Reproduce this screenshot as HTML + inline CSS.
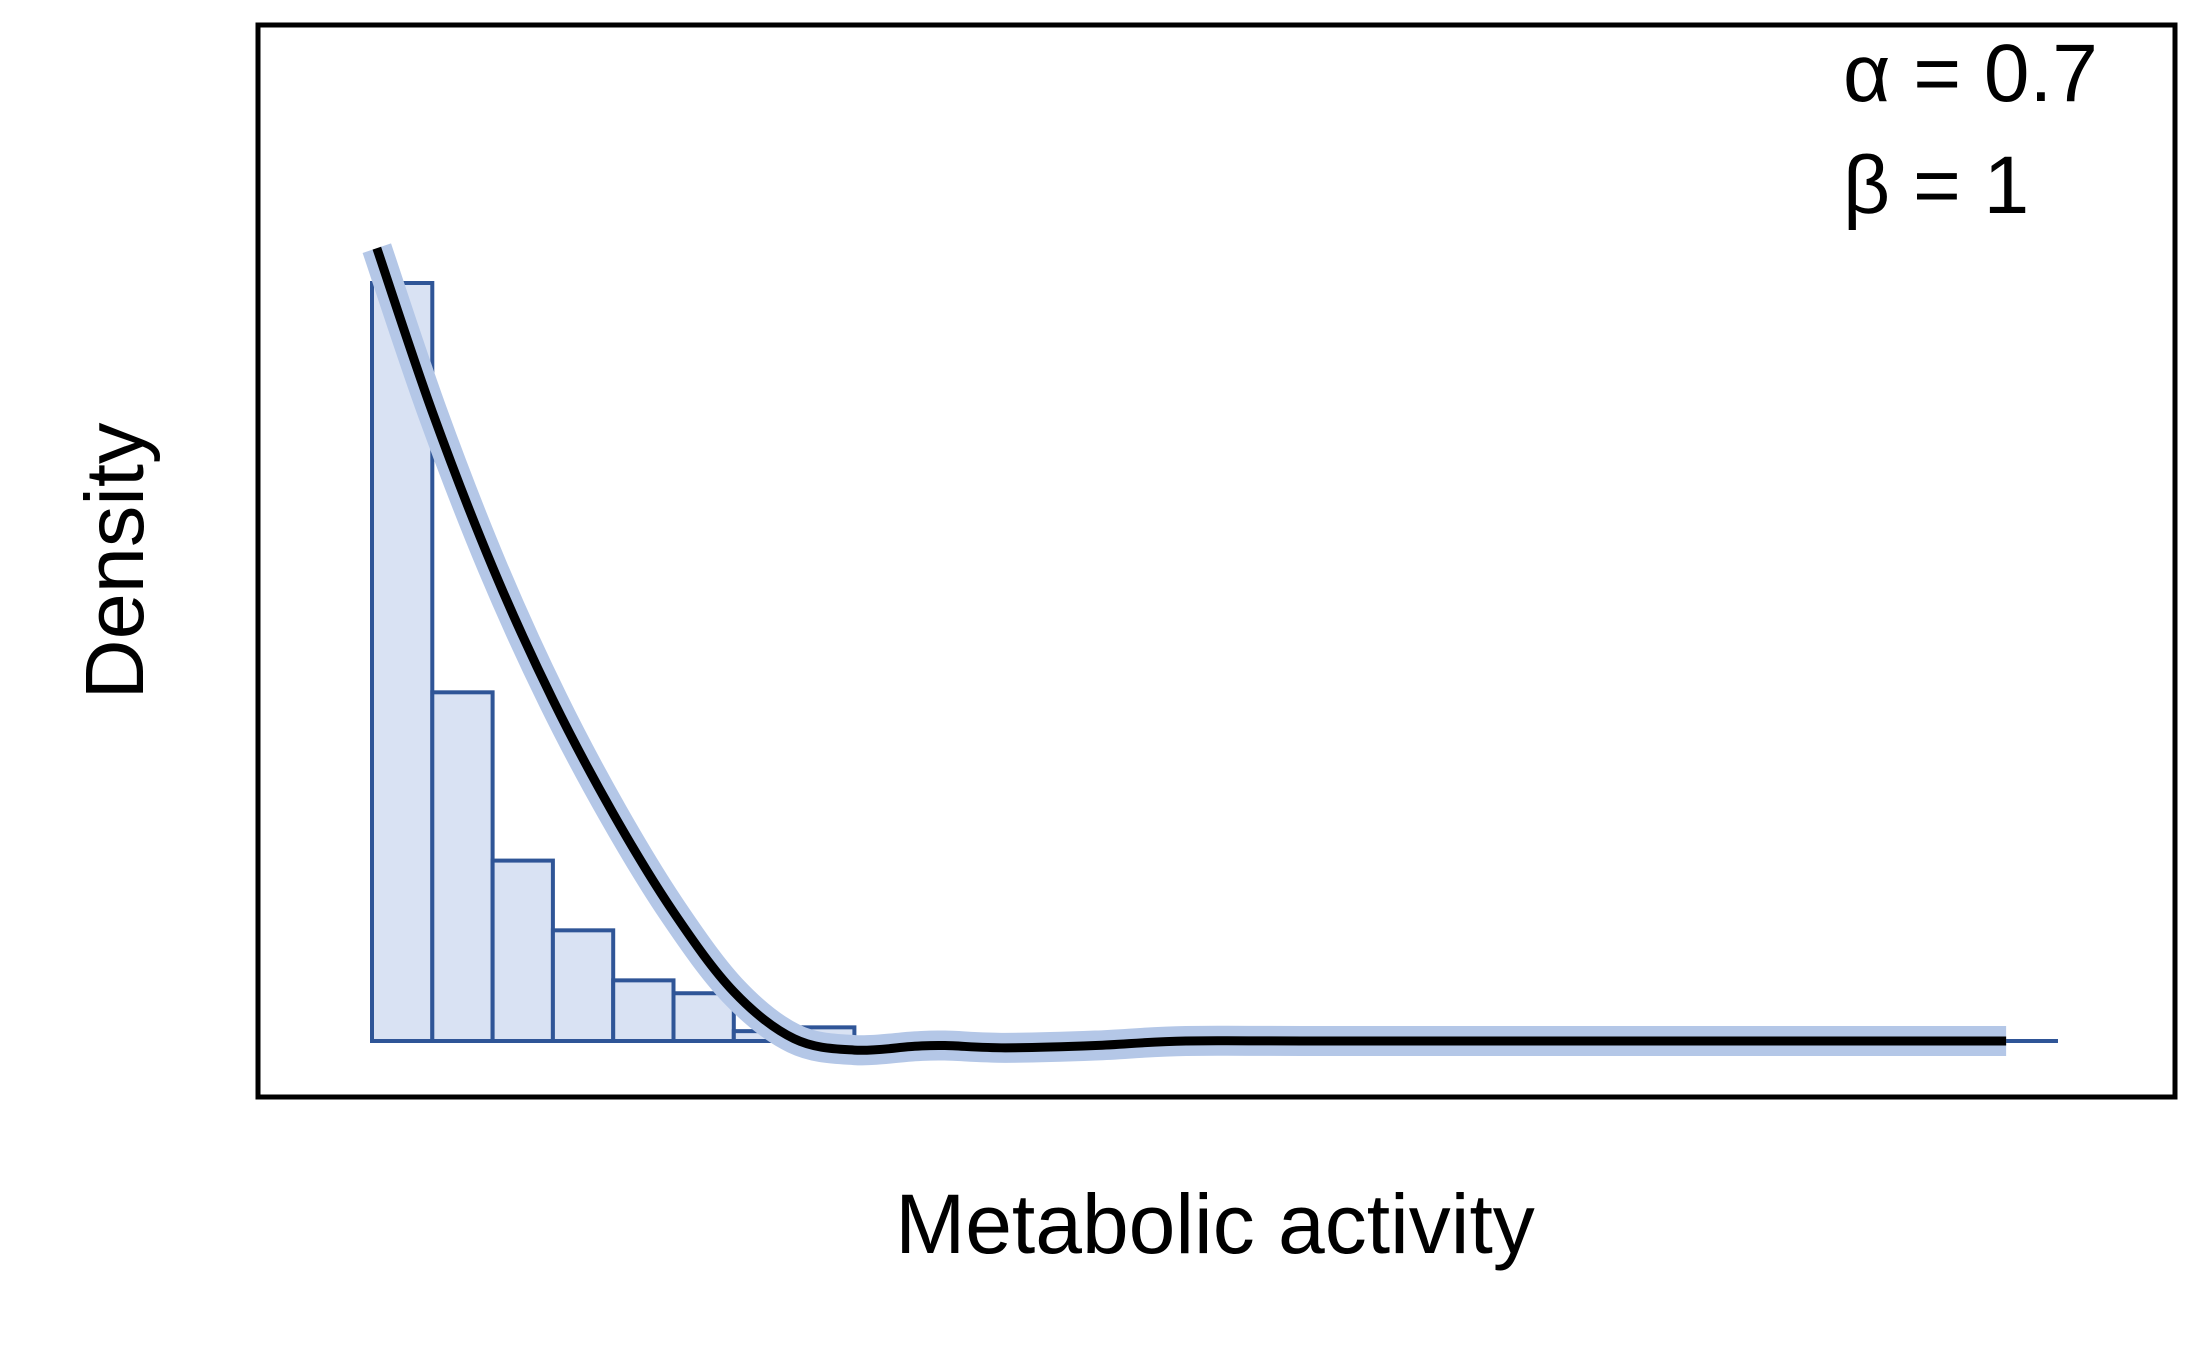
<!DOCTYPE html>
<html><head><meta charset="utf-8"><style>
html,body{margin:0;padding:0;background:#fff;}
svg{display:block;font-family:"Liberation Sans",Arial,sans-serif;}
</style></head><body>
<svg id="chart" width="2200" height="1357" viewBox="0 0 2200 1357">
<rect x="258" y="25" width="1917" height="1072" fill="none" stroke="#000" stroke-width="5"/>
<g id="bars"></g>
<g id="curves"></g>
<text x="1843" y="101" font-size="82">α = 0.7</text>
<text x="1843" y="213" font-size="82">β = 1</text>
<text transform="translate(143,561) rotate(-90)" text-anchor="middle" font-size="83">Density</text>
<text x="1215" y="1253" text-anchor="middle" font-size="84">Metabolic activity</text>
</svg>
<script>
const binStarts = [0,0.1,0.2,0.3,0.4,0.5,0.6,0.7];
const binHeights = [1,0.46,0.238,0.146,0.08,0.063,0.013,0.018];
const binWidth = 0.1;
const curveX = [0.008,0.1,0.2,0.3,0.4,0.5,0.6,0.7,0.8,0.9,0.95,1.05,1.2,1.35,1.6,2.71];
const curveY = [1.046,0.83,0.625,0.45,0.3,0.17,0.065,0.003,-0.012,-0.007,-0.006,-0.009,-0.006,0,0,0];
const baselineEnd = 2.796;

const NS = "http://www.w3.org/2000/svg";
function xs(v){return 372 + v*603;}
function ys(v){return 1041 - v*758;}

const bars = document.getElementById('bars');
binStarts.forEach((b,i)=>{
  const r = document.createElementNS(NS,'rect');
  r.setAttribute('x', xs(b));
  r.setAttribute('y', ys(binHeights[i]));
  r.setAttribute('width', xs(b+binWidth)-xs(b));
  r.setAttribute('height', ys(0)-ys(binHeights[i]));
  r.setAttribute('fill','#d9e2f3');
  r.setAttribute('stroke','#2f5597');
  r.setAttribute('stroke-width','4');
  
  
  bars.appendChild(r);
});
const bl = document.createElementNS(NS,'line');
bl.setAttribute('x1', xs(0)); bl.setAttribute('x2', xs(baselineEnd));
bl.setAttribute('y1', ys(0)); bl.setAttribute('y2', ys(0));
bl.setAttribute('stroke','#2f5597'); bl.setAttribute('stroke-width','4');


bars.appendChild(bl);

const pts = curveX.map((x,i)=>[xs(x),ys(curveY[i])]);
let d = 'M'+pts[0][0]+','+pts[0][1];
for(let i=0;i<pts.length-1;i++){
  const p0=pts[Math.max(0,i-1)],p1=pts[i],p2=pts[i+1],p3=pts[Math.min(pts.length-1,i+2)];
  const c1=[p1[0]+(p2[0]-p0[0])/6,p1[1]+(p2[1]-p0[1])/6];
  const c2=[p2[0]-(p3[0]-p1[0])/6,p2[1]-(p3[1]-p1[1])/6];
  d+=' C'+c1[0]+','+c1[1]+' '+c2[0]+','+c2[1]+' '+p2[0]+','+p2[1];
}
const curves = document.getElementById('curves');
const band = document.createElementNS(NS,'path');
band.setAttribute('d',d); band.setAttribute('fill','none');
band.setAttribute('stroke','#b4c7e7'); band.setAttribute('stroke-width','30');


curves.appendChild(band);
const line = document.createElementNS(NS,'path');
line.setAttribute('d',d); line.setAttribute('fill','none');
line.setAttribute('stroke','#000'); line.setAttribute('stroke-width','9');


curves.appendChild(line);
</script>
</body></html>
